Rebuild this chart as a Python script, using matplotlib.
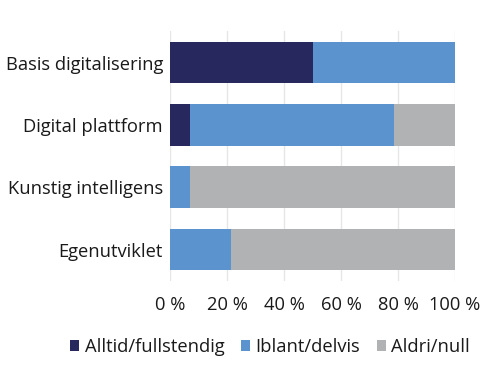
import matplotlib
matplotlib.use("Agg")
import matplotlib.pyplot as plt
import numpy as np

plt.rcParams['font.family'] = ['Open Sans', 'DejaVu Sans']

categories = ["Basis digitalisering", "Digital plattform", "Kunstig intelligens", "Egenutviklet"]
series_names = ["Alltid/fullstendig", "Iblant/delvis", "Aldri/null"]
alltid = [50, 7, 0, 0]
iblant = [50, 71.5, 7, 21.3]
aldri = [0, 21.5, 93, 78.7]
colors = ["#27285e", "#5b93cf", "#b1b2b4"]
ticks = [0, 20, 40, 60, 80, 100]
tick_labels = ["0 %", "20 %", "40 %", "60 %", "80 %", "100 %"]

fig = plt.figure(figsize=(5, 3.83), dpi=100)
ax = fig.add_axes([0.34, 0.267, 0.57, 0.651])

y = np.arange(len(categories))
left = np.zeros(len(categories))
for vals, name, c in zip([alltid, iblant, aldri], series_names, colors):
    ax.barh(y, vals, left=left, height=0.67, color=c, label=name, zorder=3)
    left += np.array(vals)

fs = 13.2
ax.set_ylim(len(categories) - 0.5, -0.5)
ax.set_xlim(0, 100)
ax.set_yticks(y)
ax.set_yticklabels(categories, fontsize=fs, color="#1a1a1a")
ax.set_xticks(ticks)
ax.set_xticklabels(tick_labels, fontsize=fs, color="#1a1a1a")
ax.tick_params(axis='both', length=0, pad=5)
ax.tick_params(axis='x', pad=11)
ax.grid(axis='x', color="#e6e6e6", linewidth=1, zorder=0)
for s in ax.spines.values():
    s.set_visible(False)

fig.legend(loc='center', bbox_to_anchor=(0.54, 0.094), ncol=3, frameon=False,
           fontsize=fs, handlelength=0.5, handleheight=0.5, handletextpad=0.3,
           columnspacing=0.9, labelcolor="#1a1a1a")

fig.savefig("out.png", dpi=100)
